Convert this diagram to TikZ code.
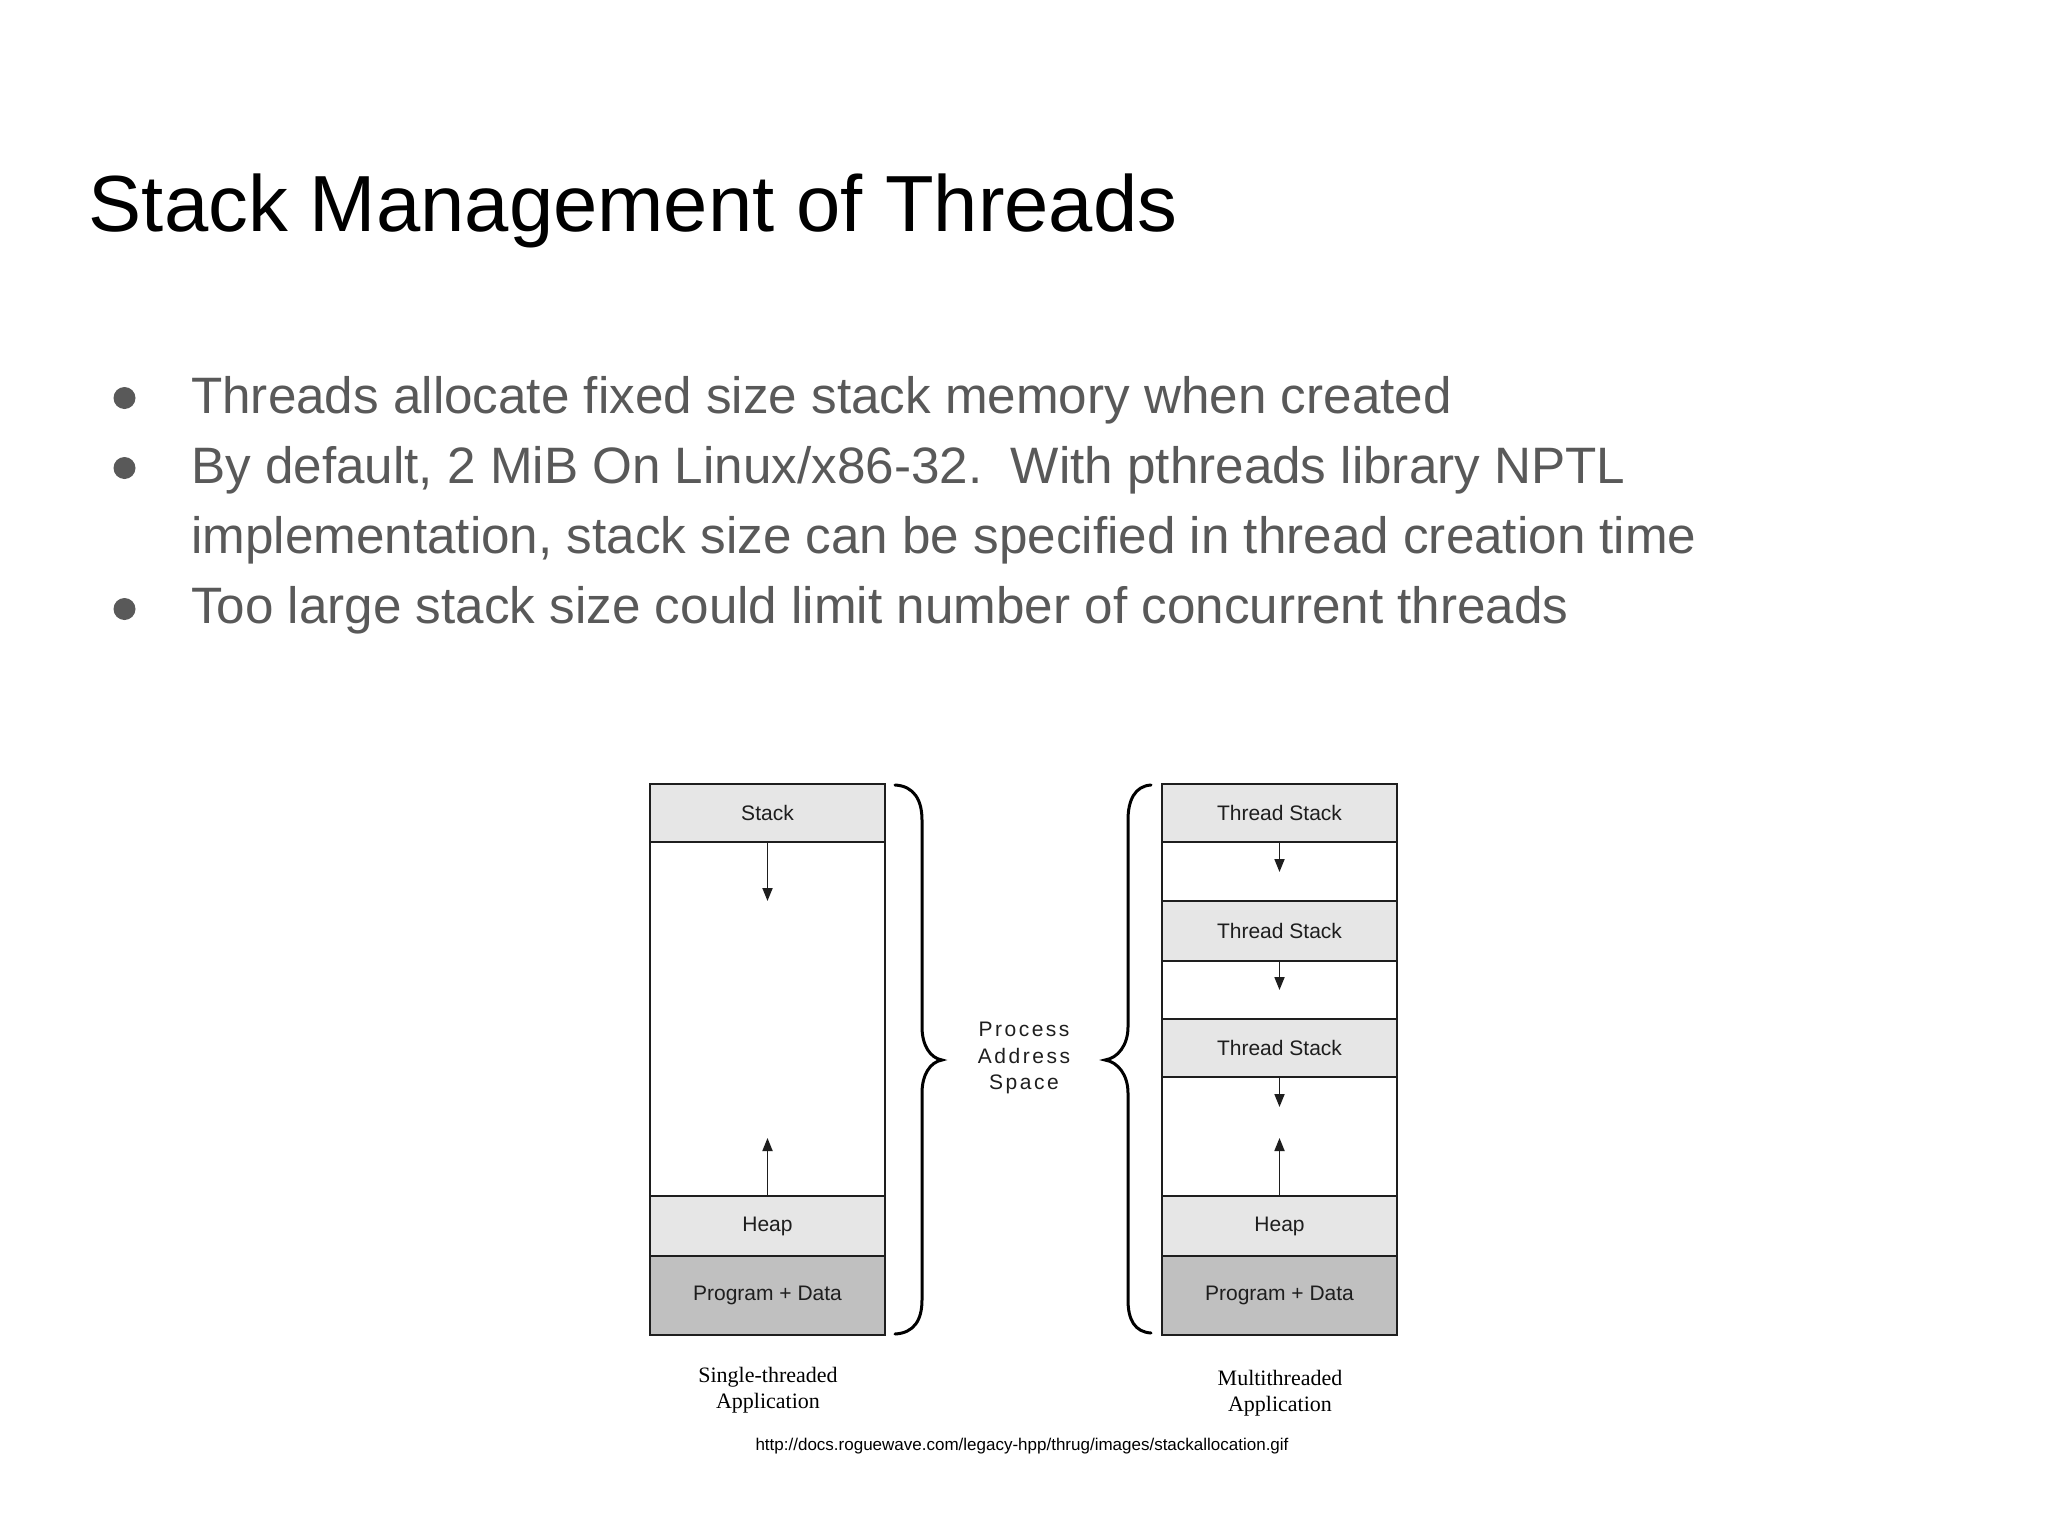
\documentclass[tikz,border=0pt]{standalone}
\usepackage{fontspec}
\setmainfont{Liberation Sans}
\newfontfamily\spacedsans[LetterSpace=12]{Liberation Sans}
\newfontfamily\labelserif{Liberation Serif}
\usetikzlibrary{arrows.meta}
\definecolor{bodygray}{HTML}{595959}
\definecolor{celllight}{HTML}{E6E6E6}
\definecolor{celldark}{HTML}{C0C0C0}
\definecolor{inkdark}{HTML}{1E1E1E}
\begin{document}
\begin{tikzpicture}[x=1pt,y=-1pt,
  cell/.style={draw=inkdark, line width=1.8pt, rectangle, inner sep=0pt, outer sep=0pt,
    minimum width=235pt, text=inkdark, font=\fontsize{21}{25}\selectfont},
  lightcell/.style={cell, fill=celllight},
  darkcell/.style={cell, fill=celldark},
  emptycell/.style={cell, fill=white},
  growarrow/.style={draw=inkdark, line width=1.8pt, -{Triangle[width=10pt,length=13pt]}},
  bracestroke/.style={draw=black, line width=3pt, line cap=round},
  bodytext/.style={anchor=base west, inner sep=0pt, text=bodygray, font=\fontsize{51.2}{61}\selectfont},
  bulletdot/.style={circle, fill=bodygray, minimum size=22pt, inner sep=0pt},
  captiontext/.style={inner sep=0pt, align=center, text=black, font=\labelserif\fontsize{22}{26}\selectfont},
]
\useasboundingbox (0,0) rectangle (2048,1536);
\fill[white] (0,0) rectangle (2048,1536);

% title
\node[anchor=base west, inner sep=0pt, text=black, font=\fontsize{79.6}{96}\selectfont] (title) at (88.6,231) {Stack Management of Threads};

% bullets
\node[bulletdot] (d1) at (124.5,398) {};
\node[bodytext] (b1) at (191,413) {Threads allocate fixed size stack memory when created};
\node[bulletdot] (d2) at (124.5,468) {};
\node[bodytext] (b2) at (191,483) {By default, 2 MiB On Linux/x86-32.\ \ With pthreads library NPTL};
\node[bodytext] (b2b) at (191,553) {implementation, stack size can be specified in thread creation time};
\node[bulletdot] (d3) at (124.5,609) {};
\node[bodytext] (b3) at (191,623) {Too large stack size could limit number of concurrent threads};

% single-threaded column
\node[lightcell, minimum height=58pt] (L1) at (767.5,813) {Stack};
\node[emptycell, minimum height=354pt] (L2) at (767.5,1019) {};
\node[lightcell, minimum height=60pt] (L3) at (767.5,1226) {Heap};
\node[darkcell, minimum height=79pt] (L4) at (767.5,1295.5) {Program + Data};
\coordinate (Ldown) at (767.5,901);
\coordinate (Lup) at (767.5,1138);
\draw[growarrow] (L1.south) -- (Ldown);
\draw[growarrow] (L3.north) -- (Lup);

% multithreaded column
\node[lightcell, minimum height=58pt] (R1) at (1279.5,813) {Thread Stack};
\node[emptycell, minimum height=59pt] (R2) at (1279.5,871.5) {};
\node[lightcell, minimum height=60pt] (R3) at (1279.5,931) {Thread Stack};
\node[emptycell, minimum height=58pt] (R4) at (1279.5,990) {};
\node[lightcell, minimum height=58pt] (R5) at (1279.5,1048) {Thread Stack};
\node[emptycell, minimum height=119pt] (R6) at (1279.5,1136.5) {};
\node[lightcell, minimum height=60pt] (R7) at (1279.5,1226) {Heap};
\node[darkcell, minimum height=79pt] (R8) at (1279.5,1295.5) {Program + Data};
\coordinate (Rd1) at (1279.5,872);
\coordinate (Rd2) at (1279.5,990);
\coordinate (Rd3) at (1279.5,1107);
\coordinate (Rup) at (1279.5,1138);
\draw[growarrow] (R1.south) -- (Rd1);
\draw[growarrow] (R3.south) -- (Rd2);
\draw[growarrow] (R5.south) -- (Rd3);
\draw[growarrow] (R7.north) -- (Rup);

% braces
\draw[bracestroke] (895,785) .. controls (914,786) and (922,800) .. (922,820) -- (922,1027)
  .. controls (922,1045) and (930,1058) .. (942,1060)
  .. controls (930,1062) and (922,1075) .. (922,1093) -- (922,1300)
  .. controls (922,1320) and (914,1333) .. (895,1334);
\draw[bracestroke] (1151,785) .. controls (1135,786) and (1128,800) .. (1128,820) -- (1128,1027)
  .. controls (1128,1045) and (1118,1058) .. (1105,1060)
  .. controls (1118,1062) and (1128,1075) .. (1128,1093) -- (1128,1300)
  .. controls (1128,1320) and (1135,1332) .. (1151,1333);

% middle label
\node[inner sep=0pt, align=center, text=inkdark, font=\spacedsans\fontsize{21}{26.5}\selectfont] (pas) at (1024,1058) {Process\\Address\\Space};

% captions
\node[captiontext] (capL) at (768,1390) {Single-threaded\\Application};
\node[captiontext] (capR) at (1280,1393) {Multithreaded\\Application};

% source
\node[inner sep=0pt, text=black, font=\fontsize{17}{20}\selectfont] (src) at (1022,1446) {http://docs.roguewave.com/legacy-hpp/thrug/images/stackallocation.gif};
\end{tikzpicture}
\end{document}
